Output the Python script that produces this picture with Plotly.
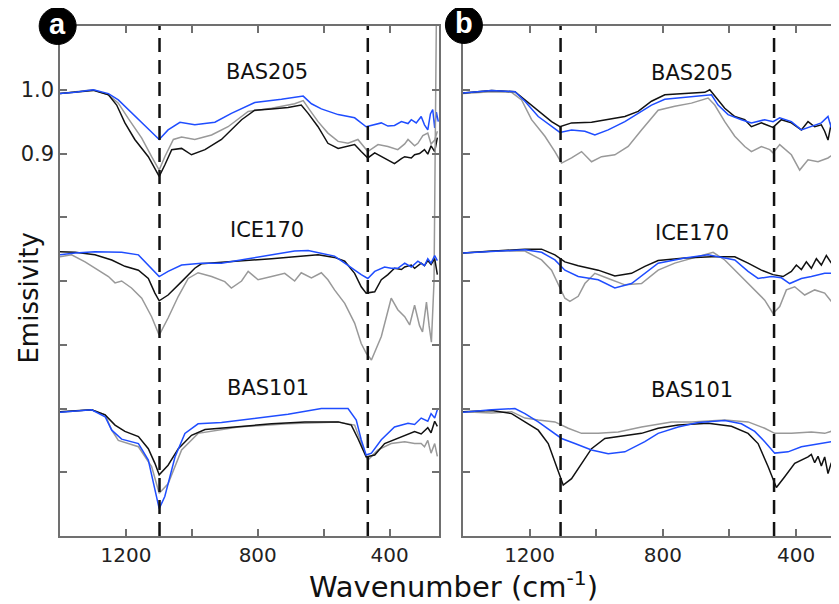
import plotly.graph_objects as go

# ---------------- data (wavenumber cm^-1, emissivity) ----------------
SAMPLES = ["BAS205", "ICE170", "BAS101"]
OFFSET_BAS205 = 0.0
OFFSET_ICE170 = -0.25
OFFSET_BAS101 = -0.5

DASH_A = [1098, 466]
DASH_B = [1107, 466]

X_TICKS = [1200, 1000, 800, 600, 400]
X_TICKTEXT = ["1200", "", "800", "", "400"]
Y_TICKS = [0.4, 0.5, 0.6, 0.7, 0.8, 0.9, 1.0]
Y_TICKTEXT = ["", "", "", "", "", "0.9", "1.0"]

# Panel a
A_BAS205_BLUE = [(1400,0.994),(1354,0.996),(1299,1.000),(1253,0.994),(1223,0.984),(1193,0.969),(1152,0.948),(1122,0.932),(1099,0.922),(1072,0.937),(1036,0.949),(991,0.945),(930,0.949),(880,0.963),(809,0.980),(728,0.985),(662,0.990),(637,0.978),(607,0.970),(556,0.961),(506,0.956),(471,0.942),(445,0.946),(425,0.948),(405,0.943),(385,0.944),(364,0.950),(344,0.947),(334,0.953),(319,0.948),(304,0.958),(294,0.945),(284,0.937),(276,0.962),(269,0.969),(263,0.940),(258,0.965),(252,0.950)]
A_BAS205_BLACK = [(1400,0.994),(1299,0.999),(1253,0.992),(1228,0.976),(1203,0.948),(1173,0.922),(1132,0.895),(1112,0.877),(1099,0.864),(1082,0.882),(1061,0.906),(1031,0.908),(1001,0.898),(960,0.906),(910,0.922),(849,0.953),(809,0.968),(758,0.970),(708,0.972),(668,0.976),(647,0.963),(617,0.942),(587,0.916),(556,0.908),(531,0.911),(506,0.914),(486,0.903),(466,0.893),(445,0.901),(415,0.893),(385,0.884),(364,0.892),(354,0.895),(334,0.893),(324,0.898),(309,0.900),(294,0.906),(284,0.899),(274,0.912),(263,0.903),(255,0.925)]
A_BAS205_GRAY = [(1400,0.994),(1299,1.000),(1253,0.992),(1223,0.979),(1193,0.955),(1152,0.924),(1122,0.895),(1099,0.874),(1082,0.895),(1056,0.922),(1031,0.926),(991,0.922),(940,0.929),(890,0.942),(829,0.966),(758,0.971),(688,0.978),(662,0.983),(642,0.968),(617,0.950),(587,0.932),(556,0.919),(526,0.916),(496,0.922),(466,0.903),(435,0.914),(405,0.911),(375,0.906),(354,0.915),(344,0.922),(324,0.912),(314,0.916),(299,0.928),(284,0.932),(274,0.915),(263,0.921),(255,0.935)]

A_ICE170_BLUE = [(1400,0.991),(1354,0.994),(1294,0.996),(1213,0.995),(1162,0.991),(1132,0.975),(1099,0.957),(1072,0.965),(1031,0.975),(971,0.978),(910,0.978),(829,0.985),(758,0.991),(688,0.997),(647,0.998),(607,0.994),(567,0.989),(536,0.978),(506,0.967),(486,0.960),(466,0.954),(445,0.965),(415,0.972),(395,0.970),(375,0.970),(354,0.978),(334,0.972),(314,0.981),(294,0.974),(284,0.985),(274,0.978),(263,0.990),(255,0.982)]
A_ICE170_BLACK = [(1400,0.996),(1354,0.995),(1294,0.991),(1243,0.983),(1203,0.973),(1162,0.967),(1132,0.954),(1112,0.931),(1099,0.919),(1072,0.928),(1031,0.949),(991,0.970),(971,0.977),(910,0.979),(829,0.982),(758,0.985),(688,0.988),(617,0.991),(567,0.987),(536,0.981),(506,0.962),(486,0.941),(471,0.931),(445,0.933),(425,0.952),(405,0.960),(385,0.970),(364,0.968),(354,0.972),(334,0.975),(324,0.970),(304,0.978),(294,0.974),(284,0.982),(274,0.976),(263,0.985),(255,0.960)]
A_ICE170_GRAY = [(1400,0.988),(1365,0.991),(1324,0.980),(1284,0.967),(1253,0.957),(1233,0.947),(1213,0.950),(1183,0.939),(1152,0.923),(1122,0.894),(1099,0.865),(1072,0.892),(1041,0.926),(1011,0.954),(981,0.963),(940,0.957),(900,0.949),(880,0.939),(849,0.950),(829,0.965),(799,0.952),(758,0.957),(718,0.962),(688,0.950),(668,0.963),(637,0.955),(607,0.963),(587,0.952),(567,0.936),(536,0.915),(506,0.884),(486,0.852),(471,0.837),(455,0.826),(425,0.863),(395,0.923),(375,0.905),(354,0.894),(339,0.881),(324,0.912),(309,0.880),(300,0.870),(288,0.917),(280,0.880),(273,0.854),(265,0.950),(258,1.360)]

A_BAS101_BLUE = [(1400,0.994),(1304,0.998),(1263,0.987),(1243,0.966),(1213,0.952),(1162,0.945),(1132,0.919),(1112,0.872),(1099,0.843),(1082,0.862),(1051,0.924),(1021,0.961),(981,0.976),(910,0.978),(809,0.985),(708,0.991),(607,1.000),(526,1.000),(501,0.982),(486,0.951),(471,0.927),(455,0.930),(425,0.951),(385,0.971),(344,0.977),(324,0.975),(304,0.985),(284,0.980),(274,0.992),(263,0.985),(255,0.998)]
A_BAS101_BLACK = [(1400,0.995),(1304,0.998),(1263,0.990),(1233,0.974),(1203,0.964),(1162,0.956),(1132,0.937),(1112,0.914),(1099,0.896),(1072,0.911),(1041,0.937),(1001,0.958),(960,0.967),(859,0.972),(758,0.976),(657,0.979),(556,0.979),(516,0.974),(496,0.953),(471,0.924),(445,0.927),(415,0.945),(364,0.956),(324,0.964),(304,0.960),(284,0.970),(274,0.962),(263,0.980),(255,0.972)]
A_BAS101_GRAY = [(1400,0.994),(1304,0.998),(1263,0.990),(1243,0.966),(1223,0.950),(1162,0.940),(1122,0.909),(1099,0.867),(1072,0.882),(1031,0.935),(981,0.961),(859,0.971),(708,0.976),(556,0.979),(506,0.974),(486,0.945),(466,0.919),(435,0.935),(395,0.945),(354,0.948),(324,0.945),(304,0.945),(294,0.940),(284,0.950),(274,0.930),(263,0.945),(255,0.925)]

# Panel b
B_BAS205_BLACK = [(1400,0.995),(1314,0.999),(1244,0.997),(1214,0.984),(1174,0.966),(1134,0.950),(1109,0.942),(1074,0.948),(1014,0.949),(964,0.953),(914,0.958),(874,0.966),(834,0.982),(794,0.992),(734,0.994),(674,0.996),(659,1.000),(644,0.990),(614,0.971),(584,0.958),(554,0.953),(534,0.942),(504,0.948),(469,0.941),(444,0.953),(414,0.948),(384,0.937),(364,0.950),(344,0.942),(324,0.945),(314,0.935),(304,0.921),(294,0.948),(289,0.955),(279,0.930),(271,0.937)]
B_BAS205_BLUE = [(1400,0.995),(1314,0.999),(1244,0.997),(1214,0.982),(1174,0.958),(1134,0.942),(1109,0.933),(1074,0.937),(1034,0.935),(1004,0.929),(964,0.937),(914,0.950),(874,0.963),(834,0.976),(794,0.985),(734,0.988),(674,0.992),(654,0.992),(634,0.976),(604,0.961),(564,0.953),(534,0.948),(494,0.953),(469,0.950),(449,0.956),(414,0.950),(384,0.937),(354,0.942),(324,0.948),(304,0.958),(294,0.940),(284,0.953),(271,0.960)]
B_BAS205_GRAY = [(1400,0.994),(1314,0.997),(1254,0.996),(1224,0.984),(1194,0.953),(1154,0.927),(1124,0.903),(1104,0.885),(1074,0.893),(1044,0.903),(1014,0.887),(984,0.895),(944,0.898),(904,0.911),(864,0.937),(814,0.968),(764,0.974),(714,0.979),(664,0.987),(644,0.976),(614,0.950),(584,0.927),(554,0.911),(534,0.903),(504,0.911),(479,0.906),(469,0.901),(449,0.914),(414,0.898),(389,0.874),(364,0.890),(334,0.887),(304,0.893),(284,0.900),(271,0.927)]

B_ICE170_BLACK = [(1400,0.994),(1314,0.997),(1214,1.000),(1164,1.000),(1124,0.991),(1094,0.980),(1054,0.974),(994,0.967),(944,0.958),(894,0.962),(854,0.973),(814,0.982),(734,0.986),(654,0.988),(584,0.988),(544,0.978),(504,0.967),(469,0.960),(439,0.957),(414,0.965),(399,0.975),(384,0.968),(369,0.980),(354,0.970),(339,0.985),(324,0.975),(309,0.990),(294,0.978),(284,0.995),(274,0.982)]
B_ICE170_BLUE = [(1400,0.994),(1314,0.996),(1214,0.999),(1164,0.995),(1124,0.983),(1094,0.967),(1054,0.957),(994,0.952),(944,0.939),(894,0.946),(854,0.962),(814,0.978),(734,0.986),(664,0.991),(614,0.986),(584,0.983),(544,0.965),(514,0.954),(474,0.957),(444,0.955),(419,0.946),(384,0.954),(354,0.957),(314,0.962),(274,0.962)]
B_ICE170_GRAY = [(1400,0.994),(1314,0.997),(1214,0.997),(1164,0.983),(1134,0.967),(1114,0.946),(1094,0.923),(1079,0.918),(1054,0.926),(1034,0.946),(1004,0.962),(964,0.954),(914,0.944),(864,0.946),(814,0.967),(764,0.978),(694,0.988),(649,0.995),(614,0.983),(574,0.962),(534,0.941),(494,0.920),(469,0.899),(449,0.910),(429,0.936),(404,0.941),(374,0.928),(344,0.936),(314,0.931),(294,0.918),(274,0.941)]

B_BAS101_BLACK = [(1400,0.995),(1314,0.997),(1254,0.992),(1214,0.979),(1174,0.966),(1144,0.945),(1119,0.909),(1099,0.880),(1074,0.890),(1044,0.914),(1014,0.937),(974,0.953),(914,0.957),(864,0.961),(814,0.969),(754,0.974),(664,0.977),(594,0.972),(544,0.961),(514,0.945),(484,0.909),(459,0.876),(434,0.893),(404,0.914),(364,0.924),(354,0.928),(344,0.915),(334,0.925),(324,0.910),(314,0.924),(304,0.898),(294,0.915),(284,0.890),(274,0.905)]
B_BAS101_BLUE = [(1400,0.994),(1314,0.998),(1244,1.000),(1214,0.992),(1174,0.979),(1134,0.964),(1104,0.953),(1064,0.945),(1014,0.935),(964,0.929),(914,0.932),(854,0.948),(814,0.961),(754,0.971),(694,0.978),(614,0.981),(564,0.976),(524,0.964),(494,0.948),(464,0.930),(424,0.932),(384,0.940),(334,0.945),(294,0.948),(274,0.952)]
B_BAS101_GRAY = [(1400,0.995),(1314,0.993),(1254,0.995),(1214,0.985),(1174,0.982),(1124,0.979),(1084,0.969),(1044,0.961),(994,0.961),(934,0.963),(864,0.971),(774,0.979),(714,0.979),(614,0.982),(544,0.979),(494,0.969),(464,0.961),(414,0.961),(354,0.963),(314,0.961),(284,0.966),(274,0.960)]

# Label positions (data coords)
LABELS_A = [("BAS205", 773, 1.028), ("ICE170", 773, 0.780), ("BAS101", 770, 0.532)]
LABELS_B = [("BAS205", 713, 1.027), ("ICE170", 713, 0.776), ("BAS101", 713, 0.529)]

# ---------------- styles ----------------
COL = {"blue": "#1f4dff", "black": "#111111", "gray": "#999999"}
AXC = "#707070"
FONT = "DejaVu Sans"

OFFSETS = {"BAS205": OFFSET_BAS205, "ICE170": OFFSET_ICE170, "BAS101": OFFSET_BAS101}

SERIES = [
    ("a", "BAS205", "gray", A_BAS205_GRAY), ("a", "BAS205", "black", A_BAS205_BLACK), ("a", "BAS205", "blue", A_BAS205_BLUE),
    ("a", "ICE170", "gray", A_ICE170_GRAY), ("a", "ICE170", "black", A_ICE170_BLACK), ("a", "ICE170", "blue", A_ICE170_BLUE),
    ("a", "BAS101", "gray", A_BAS101_GRAY), ("a", "BAS101", "black", A_BAS101_BLACK), ("a", "BAS101", "blue", A_BAS101_BLUE),
    ("b", "BAS205", "gray", B_BAS205_GRAY), ("b", "BAS205", "black", B_BAS205_BLACK), ("b", "BAS205", "blue", B_BAS205_BLUE),
    ("b", "ICE170", "gray", B_ICE170_GRAY), ("b", "ICE170", "black", B_ICE170_BLACK), ("b", "ICE170", "blue", B_ICE170_BLUE),
    ("b", "BAS101", "gray", B_BAS101_GRAY), ("b", "BAS101", "black", B_BAS101_BLACK), ("b", "BAS101", "blue", B_BAS101_BLUE),
]

fig = go.Figure()
for panel, sample, color, pts in SERIES:
    xs = [p[0] for p in pts]
    ys = [p[1] + OFFSETS[sample] for p in pts]
    fig.add_trace(go.Scatter(
        x=xs, y=ys, mode="lines",
        line=dict(color=COL[color], width=1.5),
        xaxis="x" if panel == "a" else "x2",
        yaxis="y" if panel == "a" else "y2",
        showlegend=False, hoverinfo="skip", cliponaxis=True,
    ))

shapes = []
for xref, yref, dashes in (("x", "y domain", DASH_A), ("x2", "y2 domain", DASH_B)):
    for d in dashes:
        shapes.append(dict(type="line", xref=xref, yref=yref, x0=d, x1=d, y0=0, y1=1,
                           line=dict(color="#111111", width=2.5, dash="14px,8px"), layer="above"))

# panel letter circles
for cx, cy in ((-0.003, 1.0), (0.5185, 1.002)):
    shapes.append(dict(type="circle", xref="paper", yref="paper", xsizemode="pixel", ysizemode="pixel",
                       xanchor=cx, yanchor=cy, x0=-18.5, x1=18.5, y0=-18.5, y1=18.5,
                       fillcolor="#000000", line=dict(color="#000000", width=1), layer="above"))

annotations = []
for txt, x, y in LABELS_A:
    annotations.append(dict(text=txt, x=x, y=y, xref="x", yref="y", showarrow=False,
                            font=dict(family=FONT, size=21, color="#111111")))
for txt, x, y in LABELS_B:
    annotations.append(dict(text=txt, x=x, y=y, xref="x2", yref="y2", showarrow=False,
                            font=dict(family=FONT, size=21, color="#111111")))
for letter, cx, cy in (("a", -0.003, 1.0), ("b", 0.5185, 1.002)):
    annotations.append(dict(text="<b>%s</b>" % letter, x=cx, y=cy, xref="paper", yref="paper",
                            showarrow=False, xanchor="center", yanchor="middle", yshift=2,
                            font=dict(family="Liberation Sans", size=29, color="#ffffff")))
annotations.append(dict(text="Emissivity", x=-0.041, y=0.4676, xref="paper", yref="paper",
                        textangle=-90, showarrow=False, xanchor="center", yanchor="middle",
                        font=dict(family=FONT, size=26, color="#111111")))
annotations.append(dict(text="Wavenumber (cm<sup>-1</sup>)", x=0.5045, y=-0.097, xref="paper", yref="paper",
                        showarrow=False, xanchor="center", yanchor="middle",
                        font=dict(family=FONT, size=29, color="#111111")))

xcommon = dict(tickvals=X_TICKS, ticktext=X_TICKTEXT, ticks="inside", ticklen=7, tickwidth=1.5,
               tickcolor=AXC, showline=True, linecolor=AXC, linewidth=1.5, showgrid=False,
               zeroline=False, mirror="ticks", tickfont=dict(family=FONT, size=20, color="#222222"))
ycommon = dict(range=[0.3, 1.1], tickvals=Y_TICKS, ticktext=Y_TICKTEXT, ticks="inside", ticklen=7,
               tickwidth=1.5, tickcolor=AXC, showline=True, linecolor=AXC, linewidth=1.5,
               showgrid=False, zeroline=False, tickfont=dict(family=FONT, size=21, color="#222222"))

# The page body adds an 8 px margin, so the figure is 8 px smaller and shifted accordingly.
fig.update_layout(
    width=831, height=596,
    margin=dict(l=52, r=0, t=18, b=68),
    paper_bgcolor="white", plot_bgcolor="white",
    xaxis=dict(domain=[0, 0.4865], range=[1400, 250], anchor="y", **xcommon),
    yaxis=dict(domain=[0, 1], anchor="x", mirror="ticks", **ycommon),
    xaxis2=dict(domain=[0.5173, 1], range=[1400, 271], anchor="y2", **xcommon),
    yaxis2=dict(domain=[0, 1], anchor="x2", mirror=False, showticklabels=False, **ycommon),
    shapes=shapes, annotations=annotations,
)

fig.write_html("out.html")
